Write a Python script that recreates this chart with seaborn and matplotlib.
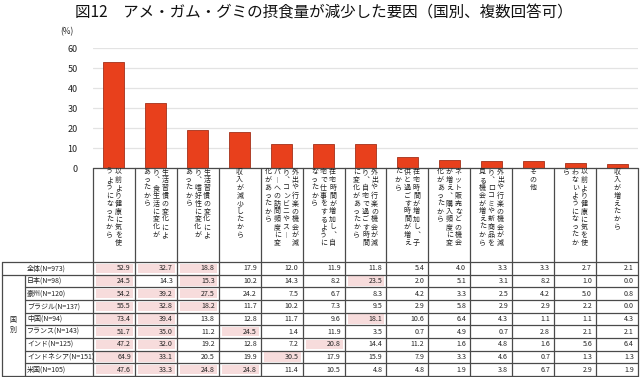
import numpy as np
import pandas as pd
import seaborn as sns
import matplotlib.pyplot as plt
from matplotlib.patches import Rectangle

# reasons (line breaks follow the vertical columns in the original)
reasons = [
    "以前より健康に気を使\nうようになったから",
    "生活習慣の変化によ\nり、食生活に変化が\nあったから",
    "生活習慣の変化によ\nり、嗜好性に変化が\nあったから",
    "収入が減少したから",
    "外出や行楽の機会が減\nり、コンビニやスー\nパーへの訪問頻度に変\n化があったから",
    "在宅時間が増加し、自\n宅で仕事をするように\nなったから",
    "外出や行楽の機会が減\nり、自宅で過ごす時間\nに変化があったから",
    "在宅時間が増加し、子\n供と過ごす時間が増え\nたから",
    "ネット販売などの機会\nが増え、購入頻度に変\n化があったから",
    "外出や行楽の機会が減\nり、口コミや新商品を\n見る機会が増えたから",
    "その他",
    "以前より健康に気を使\nわないようになったか\nら",
    "収入が増えたから",
]

row_labels = ["全体(N=973)", "日本(N=98)", "豪州(N=120)", "ブラジル(N=137)", "中国(N=94)",
              "フランス(N=143)", "インド(N=125)", "インドネシア(N=151)", "米国(N=105)"]

total = [52.9, 32.7, 18.8, 17.9, 12.0, 11.9, 11.8, 5.4, 4.0, 3.3, 3.3, 2.7, 2.1]
japan = [24.5, 14.3, 15.3, 10.2, 14.3, 8.2, 23.5, 2.0, 5.1, 3.1, 8.2, 1.0, 0.0]
australia = [54.2, 39.2, 27.5, 24.2, 7.5, 6.7, 8.3, 4.2, 3.3, 2.5, 4.2, 5.0, 0.8]
brazil = [55.5, 32.8, 18.2, 11.7, 10.2, 7.3, 9.5, 2.9, 5.8, 2.9, 2.9, 2.2, 0.0]
china = [73.4, 39.4, 13.8, 12.8, 11.7, 9.6, 18.1, 10.6, 6.4, 4.3, 1.1, 1.1, 4.3]
france = [51.7, 35.0, 11.2, 24.5, 1.4, 11.9, 3.5, 0.7, 4.9, 0.7, 2.8, 2.1, 2.1]
india = [47.2, 32.0, 19.2, 12.8, 7.2, 20.8, 14.4, 11.2, 1.6, 4.8, 1.6, 5.6, 6.4]
indonesia = [64.9, 33.1, 20.5, 19.9, 30.5, 17.9, 15.9, 7.9, 3.3, 4.6, 0.7, 1.3, 1.3]
usa = [47.6, 33.3, 24.8, 24.8, 11.4, 10.5, 4.8, 4.8, 1.9, 3.8, 6.7, 2.9, 1.9]

table_rows = [total, japan, australia, brazil, china, france, india, indonesia, usa]
yticks = [0, 10, 20, 30, 40, 50, 60]

sns.set_theme(style="white")
plt.rcParams['font.family'] = ['Noto Sans CJK JP', 'DejaVu Sans']

W, H = 640, 377
fig = plt.figure(figsize=(W / 100, H / 100), dpi=100)

# layout in pixels
x0, x1 = 93, 638          # category area
y_zero, y_top = 168, 48   # bar axis 0 and 60
lab_bot = 262             # bottom of label boxes / top of table
row_h = (376 - lab_bot) / len(table_rows)
ncat = len(reasons)
cw = (x1 - x0) / ncat

ax = fig.add_axes([x0 / W, 1 - y_zero / H, (x1 - x0) / W, (y_zero - y_top) / H])
df = pd.DataFrame({"reason": range(ncat), "pct": total})
sns.barplot(data=df, x="reason", y="pct", ax=ax, color="#E8401C", width=0.5,
            edgecolor="#A3301A", linewidth=0.6, saturation=1, zorder=3)
ax.set_xlim(-0.5, ncat - 0.5)
ax.set_ylim(0, 60)
ax.set_yticks(yticks)
ax.set_yticklabels([str(t) for t in yticks], fontsize=6.5, color="#222222")
ax.tick_params(axis="y", length=0, pad=11)
ax.set_xticks([])
ax.set_xlabel("")
ax.set_ylabel("")
for s in ax.spines.values():
    s.set_visible(False)
ax.yaxis.grid(True, color="#E3E3E3", linewidth=0.9, zorder=0)
ax.set_axisbelow(True)
ax.patch.set_alpha(0)

fig.text(75 / W, 1 - 13 / H, "図12　アメ・ガム・グミの摂食量が減少した要因（国別、複数回答可）",
         fontsize=11.2, va="center", ha="left", color="#111111")
fig.text(67 / W, 1 - 32 / H, "(%)", fontsize=6, va="center", ha="center", color="#222222")

# overlay in pixel coordinates for labels and table
ov = fig.add_axes([0, 0, 1, 1])
ov.set_xlim(0, W)
ov.set_ylim(H, 0)
ov.axis("off")
ov.patch.set_alpha(0)

lc = "#4a4a4a"
lw = 0.9

vert_map = {"、": "︑", "ー": "︱"}

# label boxes with vertical text
for i, lab in enumerate(reasons):
    cx = x0 + cw * (i + 0.5)
    cols = lab.split("\n")
    step_x = 9.0
    for j, col in enumerate(cols):
        tx = cx + (len(cols) - 1) / 2 * step_x - j * step_x
        for k, ch in enumerate(col):
            ov.text(tx, 172 + k * 7.9, vert_map.get(ch, ch), fontsize=5.0,
                    ha="center", va="center", color="#222222")

for i in range(ncat + 1):
    xx = x0 + cw * i
    ov.plot([xx, xx], [y_zero, 376], color=lc, lw=lw)
ov.plot([x0, x1], [y_zero, y_zero], color=lc, lw=lw)

# table
thresholds = [sorted(r, reverse=True)[2] for r in table_rows]
for r, (lab, vals) in enumerate(zip(row_labels, table_rows)):
    yt = lab_bot + r * row_h
    yc = yt + row_h / 2
    ov.text(27, yc, lab, fontsize=5.0, ha="left", va="center", color="#222222")
    for i, v in enumerate(vals):
        xl = x0 + cw * i
        if v >= thresholds[r]:
            ov.add_patch(Rectangle((xl + 3, yt + 1.8), cw - 5, row_h - 3.6,
                                   facecolor="#F7DCDC", edgecolor="none", zorder=1))
        ov.text(xl + cw - 4, yc, f"{v:.1f}", fontsize=5.1, ha="right", va="center",
                color="#222222", zorder=2)
    xs = 2 if r in (0, 1) else 25
    ov.plot([xs, x1], [yt, yt], color=lc, lw=lw)
ov.plot([2, x1], [376, 376], color=lc, lw=lw)
ov.plot([2, 2], [lab_bot, 376], color=lc, lw=lw)
ov.plot([25, 25], [lab_bot + row_h, 376], color=lc, lw=lw)
ov.text(13, lab_bot + row_h * 5 - 5, "国", fontsize=5.0, ha="center", va="center", color="#222222")
ov.text(13, lab_bot + row_h * 5 + 5, "別", fontsize=5.0, ha="center", va="center", color="#222222")

fig.savefig("out.png", dpi=100)
